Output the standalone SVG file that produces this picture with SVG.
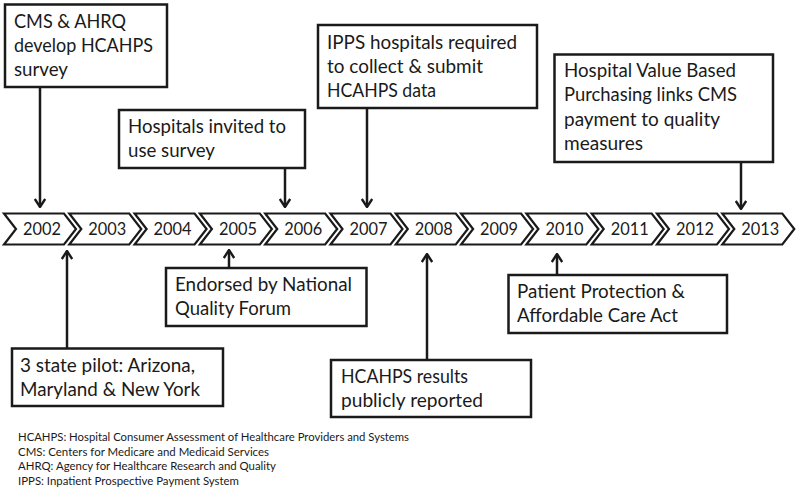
<svg xmlns="http://www.w3.org/2000/svg" width="800" height="490" viewBox="0 0 800 490">
<style>
.box{fill:#fff;stroke:#1a1a1a;stroke-width:2.5}
.chev{fill:#fff;stroke:#1a1a1a;stroke-width:2.2;stroke-linejoin:miter}
.t{font-family:Lato,"Open Sans",sans-serif;font-size:19.5px;fill:#1a1a1a}
.y{font-family:Lato,"Open Sans",sans-serif;font-size:17px;fill:#1a1a1a}
.fn{font-family:Lato,"Open Sans",sans-serif;font-size:12px;fill:#1a1a1a}
.c{fill:none;stroke:#1a1a1a;stroke-width:2.5}
</style>
<defs>
<marker id="ah" viewBox="0 0 10 12" refX="9" refY="6" markerWidth="10" markerHeight="12" markerUnits="userSpaceOnUse" orient="auto">
<path d="M1,0.8 L9,6 L1,11.2" fill="none" stroke="#1a1a1a" stroke-width="2.4"/>
</marker>
<path id="chv" d="M0,0 H60 L72,15.5 L60,31 H0 L12,15.5 Z"/>
</defs>
<rect width="800" height="490" fill="#fff"/>
<g id="timeline">
<g id="y2002"><use href="#chv" class="chev" x="4" y="213.5"/><text class="y" x="23" y="235" textLength="38" lengthAdjust="spacingAndGlyphs">2002</text></g>
<g id="y2003"><use href="#chv" class="chev" x="69.3" y="213.5"/><text class="y" x="88.3" y="235" textLength="38" lengthAdjust="spacingAndGlyphs">2003</text></g>
<g id="y2004"><use href="#chv" class="chev" x="134.6" y="213.5"/><text class="y" x="153.6" y="235" textLength="38" lengthAdjust="spacingAndGlyphs">2004</text></g>
<g id="y2005"><use href="#chv" class="chev" x="199.9" y="213.5"/><text class="y" x="218.9" y="235" textLength="38" lengthAdjust="spacingAndGlyphs">2005</text></g>
<g id="y2006"><use href="#chv" class="chev" x="265.2" y="213.5"/><text class="y" x="284.2" y="235" textLength="38" lengthAdjust="spacingAndGlyphs">2006</text></g>
<g id="y2007"><use href="#chv" class="chev" x="330.5" y="213.5"/><text class="y" x="349.5" y="235" textLength="38" lengthAdjust="spacingAndGlyphs">2007</text></g>
<g id="y2008"><use href="#chv" class="chev" x="395.8" y="213.5"/><text class="y" x="414.8" y="235" textLength="38" lengthAdjust="spacingAndGlyphs">2008</text></g>
<g id="y2009"><use href="#chv" class="chev" x="461.1" y="213.5"/><text class="y" x="480.1" y="235" textLength="38" lengthAdjust="spacingAndGlyphs">2009</text></g>
<g id="y2010"><use href="#chv" class="chev" x="526.4" y="213.5"/><text class="y" x="545.4" y="235" textLength="38" lengthAdjust="spacingAndGlyphs">2010</text></g>
<g id="y2011"><use href="#chv" class="chev" x="591.7" y="213.5"/><text class="y" x="610.7" y="235" textLength="38" lengthAdjust="spacingAndGlyphs">2011</text></g>
<g id="y2012"><use href="#chv" class="chev" x="657" y="213.5"/><text class="y" x="676" y="235" textLength="38" lengthAdjust="spacingAndGlyphs">2012</text></g>
<g id="y2013"><use href="#chv" class="chev" x="722.3" y="213.5"/><text class="y" x="741.3" y="235" textLength="38" lengthAdjust="spacingAndGlyphs">2013</text></g>
</g>
<g id="connectors">
<path class="c" d="M40,87 V207" marker-end="url(#ah)"/>
<path class="c" d="M285,168 V207" marker-end="url(#ah)"/>
<path class="c" d="M367,108 V207" marker-end="url(#ah)"/>
<path class="c" d="M741,162 V209" marker-end="url(#ah)"/>
<path class="c" d="M67,348 V251" marker-end="url(#ah)"/>
<path class="c" d="M229,268 V250" marker-end="url(#ah)"/>
<path class="c" d="M427,359 V254" marker-end="url(#ah)"/>
<path class="c" d="M557,275 V254" marker-end="url(#ah)"/>
</g>
<g id="n1"><rect class="box" x="5" y="4.5" width="162" height="82.5"/>
<text class="t" x="14" y="28" textLength="112" lengthAdjust="spacingAndGlyphs">CMS &amp; AHRQ</text>
<text class="t" x="14" y="52" textLength="139" lengthAdjust="spacingAndGlyphs">develop HCAHPS</text>
<text class="t" x="14" y="76" textLength="54" lengthAdjust="spacingAndGlyphs">survey</text></g>
<g id="n2"><rect class="box" x="119" y="110" width="186" height="58"/>
<text class="t" x="128" y="133" textLength="158" lengthAdjust="spacingAndGlyphs">Hospitals invited to</text>
<text class="t" x="128" y="157" textLength="87" lengthAdjust="spacingAndGlyphs">use survey</text></g>
<g id="n3"><rect class="box" x="318" y="25" width="219" height="83"/>
<text class="t" x="327" y="49" textLength="190" lengthAdjust="spacingAndGlyphs">IPPS hospitals required</text>
<text class="t" x="327" y="73" textLength="156" lengthAdjust="spacingAndGlyphs">to collect &amp; submit</text>
<text class="t" x="327" y="97" textLength="109" lengthAdjust="spacingAndGlyphs">HCAHPS data</text></g>
<g id="n4"><rect class="box" x="554.5" y="54.5" width="218.5" height="107.5"/>
<text class="t" x="564" y="77" textLength="172" lengthAdjust="spacingAndGlyphs">Hospital Value Based</text>
<text class="t" x="564" y="101" textLength="173" lengthAdjust="spacingAndGlyphs">Purchasing links CMS</text>
<text class="t" x="564" y="126" textLength="156" lengthAdjust="spacingAndGlyphs">payment to quality</text>
<text class="t" x="564" y="150" textLength="79" lengthAdjust="spacingAndGlyphs">measures</text></g>
<g id="n5"><rect class="box" x="166" y="268" width="200.5" height="58"/>
<text class="t" x="175" y="291" textLength="177" lengthAdjust="spacingAndGlyphs">Endorsed by National</text>
<text class="t" x="175" y="315" textLength="116" lengthAdjust="spacingAndGlyphs">Quality Forum</text></g>
<g id="n6"><rect class="box" x="12" y="348.5" width="211" height="57.5"/>
<text class="t" x="20" y="372" textLength="175" lengthAdjust="spacingAndGlyphs">3 state pilot: Arizona,</text>
<text class="t" x="20" y="396" textLength="180" lengthAdjust="spacingAndGlyphs">Maryland &amp; New York</text></g>
<g id="n7"><rect class="box" x="331" y="360" width="200" height="57"/>
<text class="t" x="341" y="383" textLength="127" lengthAdjust="spacingAndGlyphs">HCAHPS results</text>
<text class="t" x="341" y="407" textLength="142" lengthAdjust="spacingAndGlyphs">publicly reported</text></g>
<g id="n8"><rect class="box" x="508.5" y="275" width="218.5" height="58"/>
<text class="t" x="517" y="298" textLength="168" lengthAdjust="spacingAndGlyphs">Patient Protection &amp;</text>
<text class="t" x="517" y="322" textLength="161" lengthAdjust="spacingAndGlyphs">Affordable Care Act</text></g>
<g id="notes">
<text class="fn" x="18" y="441" textLength="391" lengthAdjust="spacingAndGlyphs">HCAHPS: Hospital Consumer Assessment of Healthcare Providers and Systems</text>
<text class="fn" x="18" y="455.5" textLength="251" lengthAdjust="spacingAndGlyphs">CMS: Centers for Medicare and Medicaid Services</text>
<text class="fn" x="18" y="470" textLength="258" lengthAdjust="spacingAndGlyphs">AHRQ: Agency for Healthcare Research and Quality</text>
<text class="fn" x="18" y="484.5" textLength="221" lengthAdjust="spacingAndGlyphs">IPPS: Inpatient Prospective Payment System</text>
</g>
</svg>
